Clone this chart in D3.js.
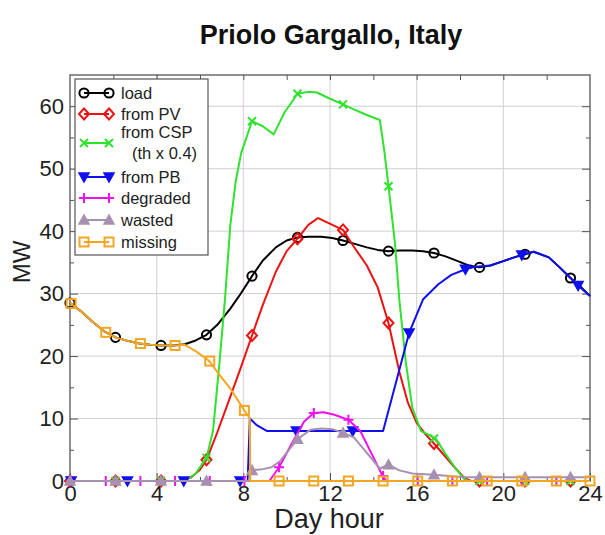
<!DOCTYPE html>
<html><head><meta charset="utf-8">
<script src="https://cdn.jsdelivr.net/npm/d3@7"></script>
<style>body{margin:0;background:#fff}svg{display:block}text{font-family:"Liberation Sans",Arial,sans-serif}</style>
</head><body>
<svg id="c" width="605" height="535"></svg>
<script>
// ---- data ----
const xTicks = [0,4,8,12,16,20,24];
const yTicks = [0,10,20,30,40,50,60];
const seriesNames = ["load","from PV","from CSP","from PB","degraded","wasted","missing"];

const load = [[0,28.5],[0.5,27.2],[1,25.6],[1.6,23.9],[2.1,23.0],[2.7,22.4],[3.2,22.0],[3.7,21.8],[4.2,21.7],[4.8,21.7],[5.3,21.9],[5.8,22.5],[6.3,23.4],[6.8,25.0],[7.4,27.6],[7.9,30.1],[8.4,32.8],[8.9,35.3],[9.5,37.4],[10,38.5],[10.5,39.0],[11,39.1],[11.6,39.1],[12.1,38.9],[12.6,38.5],[13.1,38.0],[13.7,37.4],[14.2,37.0],[14.7,36.8],[15.2,36.9],[15.8,36.9],[16.3,36.8],[16.8,36.5],[17.3,36.0],[17.9,35.2],[18.4,34.5],[18.9,34.2],[19.4,34.5],[20,35.2],[20.5,35.8],[21,36.3],[21.4,36.7],[22.1,35.8],[22.6,34.2],[23.1,32.5],[23.6,31.0],[24,29.6]];
const pv = [[0,0],[5.2,0],[5.6,0.6],[6,1.8],[6.3,3.4],[6.8,7.8],[7.4,13.5],[7.9,18.3],[8.4,23.3],[8.9,28.2],[9.5,33.5],[10,36.8],[10.5,38.8],[11,41.0],[11.45,42.1],[12.6,40.2],[13.1,37.5],[13.7,34.5],[14.2,31.0],[14.7,25.3],[15.2,17.5],[15.6,12.5],[16,9.3],[16.4,7.5],[16.8,6.0],[17.3,4.0],[17.8,2.0],[18.2,0.5],[18.5,0],[24,0]];
const csp = [[0,0],[5.3,0],[5.8,1.2],[6.3,3.7],[6.6,8],[6.9,19],[7.15,29],[7.4,41],[7.65,48],[7.9,52.5],[8.4,57.6],[8.9,56.8],[9.4,55.5],[9.9,59.0],[10.5,62.0],[11,62.3],[11.4,62.2],[12,61.2],[12.6,60.3],[13.1,59.5],[13.7,58.6],[14.3,57.8],[14.5,53],[14.7,47.2],[15,38],[15.2,29],[15.5,19],[15.8,11.7],[16.2,8.0],[16.5,7.5],[16.9,6.7],[17.3,4.5],[17.8,2.0],[18.2,0.3],[18.4,0],[24,0]];
const pb = [[0,0],[8.2,0],[8.3,10],[8.6,9],[9.1,8],[14.45,8],[15.1,16.5],[15.65,23.7],[16.3,29.1],[17,31.5],[17.6,33.0],[18.25,33.9],[18.7,34.3],[19.4,34.5],[20,35.2],[20.5,35.8],[20.85,36.2],[21.4,36.7],[22.1,35.8],[22.6,34.2],[23.1,32.5],[23.45,31.3],[24,29.6]];
const degraded = [[0,0],[9.2,0],[9.65,2.2],[10.3,6.4],[10.8,9.5],[11.25,10.9],[11.7,11.0],[12.2,10.6],[12.85,9.8],[13.4,8.0],[13.9,4.5],[14.4,1.0],[14.6,0],[24,0]];
const wasted = [[0,0],[8.25,0],[8.35,1.7],[8.9,1.9],[9.3,2.2],[9.7,3.2],[10.1,5.0],[10.5,6.7],[11.1,8.2],[11.6,8.4],[12.1,8.3],[12.6,7.7],[13.1,7.0],[13.7,4.5],[14.3,2.0],[14.7,2.6],[15.2,1.7],[15.8,1.2],[16.8,1.0],[17.5,0.8],[18.2,0.6],[24,0.6]];
const missing = [[0,28.5],[0.5,27.2],[1,25.6],[1.6,23.9],[2.1,23.0],[2.7,22.4],[3.2,22.0],[3.7,21.8],[4.2,21.7],[4.85,21.7],[5.3,21.8],[5.8,20.8],[6.4,19.3],[6.9,17.0],[7.4,14.8],[8.05,11.3],[8.3,10.0],[8.32,0],[24,0]];

// marker positions (hour, MW)
const loadMk = [[0,28.5],[2.1,23.0],[4.2,21.7],[6.3,23.4],[8.4,32.8],[10.5,39.0],[12.6,38.5],[14.7,36.8],[16.8,36.5],[18.9,34.2],[21,36.3],[23.1,32.5]];
const pvMk = [[0,0],[2.1,0],[4.2,0],[6.3,3.4],[8.4,23.3],[10.5,38.8],[12.6,40.2],[14.7,25.3],[16.8,6.0],[18.9,0],[21,0],[23.1,0]];
const cspMk = [[0,0],[2.1,0],[4.2,0],[6.3,3.7],[8.4,57.6],[10.5,62.0],[12.6,60.3],[14.7,47.2],[16.8,6.8],[18.9,0],[21,0],[23.1,0]];
const pbMk = [[0.05,0],[2.65,0],[5.25,0],[7.85,0],[10.45,8],[13.05,8],[15.65,23.7],[18.25,33.9],[20.85,36.2],[23.45,31.3]];
const degradedMk = [[0.05,0],[1.65,0],[3.25,0],[4.85,0],[6.45,0],[8.05,0],[9.65,2.2],[11.25,10.9],[12.85,9.8],[14.45,0.8],[16.05,0],[17.65,0],[19.25,0],[20.85,0],[22.45,0]];
const wastedMk = [[0,0],[2.1,0],[4.2,0],[6.3,0],[8.4,1.7],[10.5,6.7],[12.6,7.7],[14.7,2.6],[16.8,1.0],[18.9,0.6],[21,0.6],[23.1,0.6]];
const missingMk = [[0.05,28.4],[1.65,23.8],[3.25,22.0],[4.85,21.7],[6.45,19.2],[8.05,11.3],[9.65,0],[11.25,0],[12.85,0],[14.45,0],[16.05,0],[17.65,0],[19.25,0],[20.85,0],[22.45,0],[24,0]];

// ---- drawing ----
const svg = d3.select("#c");
const X0=70, X1=590, Y0=481, Y1=75;
const x = d3.scaleLinear().domain([0,24]).range([X0,X1]);
const y = d3.scaleLinear().domain([0,65]).range([Y0,Y1]);

// grid
const g = svg.append("g");
g.selectAll(".gx").data(xTicks.slice(1,-1)).join("line")
  .attr("x1",d=>x(d)).attr("x2",d=>x(d)).attr("y1",Y0).attr("y2",Y1)
  .attr("stroke",d=>d===8?"#e6c6ea":"#d0d0d0").attr("stroke-width",1);
g.selectAll(".gy").data(yTicks.slice(1)).join("line")
  .attr("x1",X0).attr("x2",X1).attr("y1",d=>y(d)).attr("y2",d=>y(d))
  .attr("stroke","#d0d0d0").attr("stroke-width",1);

// axes (ticks inward)
const fs = "22px";
function styleAxis(sel){ sel.select(".domain").remove(); sel.selectAll("line").attr("stroke","#555"); sel.selectAll("text").attr("font-size",fs).attr("fill","#222").attr("font-family","Liberation Sans, Arial, sans-serif"); }
svg.append("g").attr("transform",`translate(0,${Y0})`).call(d3.axisBottom(x).tickValues(xTicks).tickSizeInner(-8).tickSizeOuter(0).tickPadding(4)).call(styleAxis);
svg.append("g").attr("transform",`translate(0,${Y0})`).call(d3.axisBottom(x).tickValues(d3.range(2,24,4)).tickFormat("").tickSizeInner(-4).tickSizeOuter(0)).call(styleAxis);
svg.append("g").attr("transform",`translate(0,${Y1})`).call(d3.axisTop(x).tickValues(d3.range(2,24,2)).tickFormat("").tickSizeInner(-5).tickSizeOuter(0)).call(styleAxis);
svg.append("g").attr("transform",`translate(${X0},0)`).call(d3.axisLeft(y).tickValues(yTicks).tickSizeInner(-8).tickSizeOuter(0).tickPadding(6)).call(styleAxis);
svg.append("g").attr("transform",`translate(${X0},0)`).call(d3.axisLeft(y).tickValues(d3.range(5,65,10)).tickFormat("").tickSizeInner(-4).tickSizeOuter(0)).call(styleAxis);
svg.append("g").attr("transform",`translate(${X1},0)`).call(d3.axisRight(y).tickValues(yTicks).tickFormat("").tickSizeInner(-8).tickSizeOuter(0)).call(styleAxis);
svg.append("g").attr("transform",`translate(${X1},0)`).call(d3.axisRight(y).tickValues(d3.range(5,65,10)).tickFormat("").tickSizeInner(-4).tickSizeOuter(0)).call(styleAxis);

// frame
svg.append("rect").attr("x",X0).attr("y",Y1).attr("width",X1-X0).attr("height",Y0-Y1)
  .attr("fill","none").attr("stroke","#555").attr("stroke-width",1.3);

// marker drawing
function marker(sel, type, color, cx, cy){
  const s = sel.append("g").attr("transform",`translate(${cx},${cy})`);
  if(type==="circle") s.append("circle").attr("r",4.6).attr("fill","none").attr("stroke",color).attr("stroke-width",2);
  else if(type==="diamond") s.append("path").attr("d","M0,-5.5L5,0L0,5.5L-5,0Z").attr("fill","none").attr("stroke",color).attr("stroke-width",2);
  else if(type==="x") s.append("path").attr("d","M-4,-4L4,4M-4,4L4,-4").attr("stroke",color).attr("stroke-width",2);
  else if(type==="tridown") s.append("path").attr("d","M-5,-4L5,-4L0,5Z").attr("fill",color).attr("stroke",color).attr("stroke-width",1.5);
  else if(type==="plus") s.append("path").attr("d","M-5,0L5,0M0,-5L0,5").attr("stroke",color).attr("stroke-width",2);
  else if(type==="triup") s.append("path").attr("d","M-5,4L5,4L0,-5Z").attr("fill",color).attr("stroke",color).attr("stroke-width",1.5);
  else if(type==="square") s.append("rect").attr("x",-4.5).attr("y",-4.5).attr("width",9).attr("height",9).attr("fill","none").attr("stroke",color).attr("stroke-width",2);
}

const series = [
  {name:seriesNames[0], data:load, mk:loadMk, color:"#000000", type:"circle"},
  {name:seriesNames[1], data:pv, mk:pvMk, color:"#ee1111", type:"diamond"},
  {name:seriesNames[2], data:csp, mk:cspMk, color:"#2fe22f", type:"x"},
  {name:seriesNames[3], data:pb, mk:pbMk, color:"#1010ee", type:"tridown"},
  {name:seriesNames[4], data:degraded, mk:degradedMk, color:"#ee11ee", type:"plus"},
  {name:seriesNames[5], data:wasted, mk:wastedMk, color:"#a890b0", type:"triup"},
  {name:seriesNames[6], data:missing, mk:missingMk, color:"#f4a623", type:"square"}
];
const line = d3.line().x(d=>x(d[0])).y(d=>y(d[1]));
const plot = svg.append("g");
series.forEach(s=>{
  plot.append("path").datum(s.data).attr("d",line).attr("fill","none").attr("stroke",s.color).attr("stroke-width",2).attr("stroke-linejoin","round");
  s.mk.forEach(p=>marker(plot, s.type, s.color, x(p[0]), y(p[1])));
});

// legend
const lg = svg.append("g");
lg.append("rect").attr("x",75).attr("y",79).attr("width",133).attr("height",176).attr("fill","#fff").attr("stroke","#555").attr("stroke-width",1.2);
const rowsY = [93,114,143,177,198,220,242];
series.forEach((s,i)=>{
  const yy = rowsY[i];
  lg.append("line").attr("x1",84).attr("x2",109).attr("y1",yy).attr("y2",yy).attr("stroke",s.color).attr("stroke-width",2);
  marker(lg, s.type, s.color, 84, yy);
  marker(lg, s.type, s.color, 109, yy);
  if(i===2){
    lg.append("text").attr("x",121).attr("y",132).attr("dy","0.35em").attr("font-size","16.5px").attr("fill","#222").text("from CSP");
    lg.append("text").attr("x",132).attr("y",153).attr("dy","0.35em").attr("font-size","16.5px").attr("fill","#222").text("(th x 0.4)");
  } else {
    lg.append("text").attr("x",121).attr("y",yy).attr("dy","0.35em").attr("font-size","16.5px").attr("fill","#222").text(s.name);
  }
});

// titles
svg.append("text").attr("x",331).attr("y",35).attr("dy","0.35em").attr("text-anchor","middle").attr("font-size","27px").attr("font-weight","bold").attr("fill","#111").text("Priolo Gargallo, Italy");
svg.append("text").attr("x",329).attr("y",519).attr("dy","0.35em").attr("text-anchor","middle").attr("font-size","27px").attr("fill","#222").text("Day hour");
svg.append("text").attr("transform","translate(22,262) rotate(-90)").attr("dy","0.35em").attr("text-anchor","middle").attr("font-size","24px").attr("fill","#222").text("MW");
</script>
</body></html>
